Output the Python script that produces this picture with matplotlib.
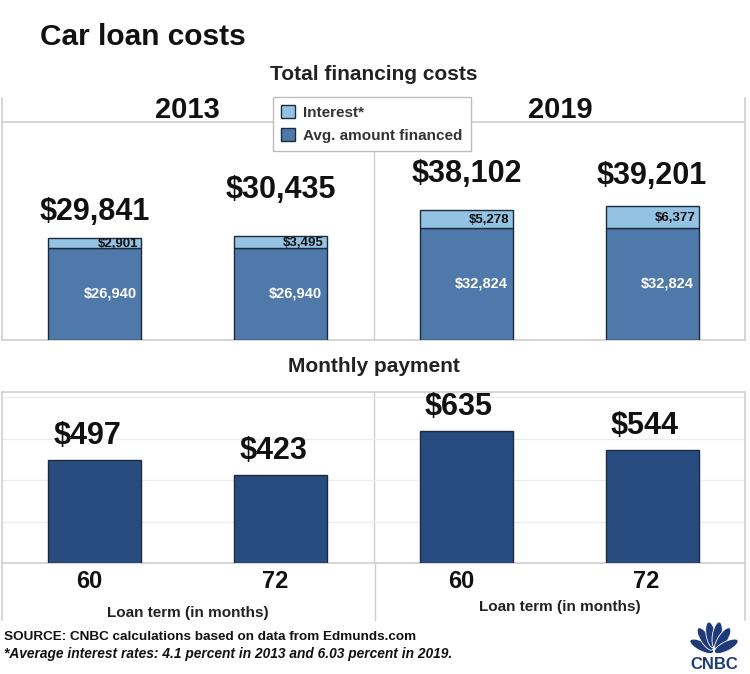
import matplotlib as mpl
import matplotlib.pyplot as plt
import numpy as np
from matplotlib.patches import Patch, Ellipse

mpl.rcParams["font.family"] = ["Liberation Sans", "DejaVu Sans"]

# data
terms = ["60", "72", "60", "72"]
years = ["2013", "2019"]
financed = [26940, 26940, 32824, 32824]
interest = [2901, 3495, 5278, 6377]
totals = [29841, 30435, 38102, 39201]
monthly = [497, 423, 635, 544]

c_light = "#93c2e3"
c_mid = "#4e79aa"
c_dark = "#284c80"
c_edge = "#1c2a3c"
c_frame = "#cfcfcf"

W, H = 750, 674
fig = plt.figure(figsize=(7.5, 6.74), dpi=100)


def fx(x):
    return x / W


def fy(y):
    return 1 - y / H


def line(x0, y0, x1, y1, color=c_frame, lw=1.2):
    fig.add_artist(plt.Line2D([fx(x0), fx(x1)], [fy(y0), fy(y1)],
                              color=color, lw=lw, transform=fig.transFigure))


x = np.arange(4)

# ---- top panel: total financing costs
ax1 = fig.add_axes([fx(2), fy(340), fx(745) - fx(2), fy(98) - fy(340)])
ax1.bar(x, financed, width=0.5, color=c_mid, edgecolor=c_edge, lw=1, zorder=3)
ax1.bar(x, interest, bottom=financed, width=0.5, color=c_light,
        edgecolor=c_edge, lw=1, zorder=3)
ax1.set_xlim(-0.5, 3.5)
ax1.set_ylim(0, 70700)
ax1.axhline(63700, color=c_frame, lw=1.2, zorder=1)
ax1.plot([1.5, 1.5], [0, 63700], color=c_frame, lw=1, zorder=1)
ax1.spines["top"].set_visible(False)
for s in ["left", "right", "bottom"]:
    ax1.spines[s].set_color(c_frame)
    ax1.spines[s].set_linewidth(1.2)
ax1.set_xticks([])
ax1.set_yticks([])

tot_off = [26, 46, 36, 30]
for i in range(4):
    ax1.annotate("${:,}".format(totals[i]), (x[i], totals[i]),
                 xytext=(0, tot_off[i] * 0.72), textcoords="offset points",
                 ha="center", va="center", fontsize=22, fontweight="bold",
                 color="#111111")
    ax1.annotate("${:,}".format(interest[i]), (x[i] + 0.24, financed[i] + interest[i] / 2),
                 xytext=(-1, -1), textcoords="offset points",
                 ha="right", va="center", fontsize=9.5, fontweight="bold",
                 color="#111111", zorder=4)
    ax1.annotate("${:,}".format(financed[i]), (x[i] + 0.24, financed[i] / 2),
                 xytext=(-2, 0), textcoords="offset points",
                 ha="right", va="center", fontsize=10.5, fontweight="bold",
                 color="white", zorder=4)

handles = [Patch(facecolor=c_light, edgecolor=c_edge, label="Interest*"),
           Patch(facecolor=c_mid, edgecolor=c_edge, label="Avg. amount financed")]
leg = ax1.legend(handles=handles, loc="upper left",
                 bbox_to_anchor=(fx(273), fy(97)), bbox_transform=fig.transFigure,
                 borderaxespad=0, fancybox=False, framealpha=1,
                 edgecolor="#bdbdbd", fontsize=11, handlelength=0.9,
                 handleheight=0.9, handletextpad=0.5, labelspacing=0.55,
                 borderpad=0.55)
for t in leg.get_texts():
    t.set_color("#333333")
    t.set_fontweight("bold")
leg.set_zorder(10)

fig.text(fx(187), fy(110), years[0], ha="center", va="center",
         fontsize=21, fontweight="bold", color="#111111")
fig.text(fx(560), fy(110), years[1], ha="center", va="center",
         fontsize=21, fontweight="bold", color="#111111")

# ---- bottom panel: monthly payment
ax2 = fig.add_axes([fx(2), fy(563), fx(745) - fx(2), fy(392) - fy(563)])
ax2.bar(x, monthly, width=0.5, color=c_dark, edgecolor=c_edge, lw=1, zorder=3)
ax2.set_xlim(-0.5, 3.5)
ax2.set_ylim(0, 825)
ax2.set_yticks([200, 400, 600, 800])
ax2.grid(True, axis="y", color="#ececec", lw=1, zorder=0)
ax2.tick_params(axis="y", length=0, labelleft=False)
ax2.set_xticks(x - 0.03)
ax2.set_xticklabels(terms, fontsize=17, fontweight="bold", color="#111111")
ax2.tick_params(axis="x", length=0, pad=5)
for s in ["left", "right", "top", "bottom"]:
    ax2.spines[s].set_color(c_frame)
    ax2.spines[s].set_linewidth(1.2)
ax2.plot([1.5, 1.5], [0, 825], color=c_frame, lw=1, zorder=1)
for i in range(4):
    ax2.annotate("${}".format(monthly[i]), (x[i] - 0.04, monthly[i]),
                 xytext=(0, 24 * 0.72), textcoords="offset points",
                 ha="center", va="center", fontsize=22, fontweight="bold",
                 color="#111111")

# frame extension below bottom axis
line(2, 563, 2, 620)
line(745, 563, 745, 620)
line(375, 563, 375, 620, lw=1)

fig.text(fx(188), fy(613), "Loan term (in months)", ha="center", va="center",
         fontsize=11, fontweight="bold", color="#222222")
fig.text(fx(560), fy(607), "Loan term (in months)", ha="center", va="center",
         fontsize=11, fontweight="bold", color="#222222")

# titles
fig.text(fx(40), fy(37), "Car loan costs", ha="left", va="center",
         fontsize=21.5, fontweight="bold", color="#111111")
fig.text(fx(374), fy(74), "Total financing costs", ha="center", va="center",
         fontsize=15, fontweight="bold", color="#222222")
fig.text(fx(374), fy(367), "Monthly payment", ha="center", va="center",
         fontsize=15, fontweight="bold", color="#222222")

# footer
fig.text(fx(4), fy(637), "SOURCE: CNBC calculations based on data from Edmunds.com",
         ha="left", va="center", fontsize=9.7, fontweight="bold", color="#111111")
fig.text(fx(4), fy(654),
         "*Average interest rates: 4.1 percent in 2013 and 6.03 percent in 2019.",
         ha="left", va="center", fontsize=9.9, fontweight="bold",
         style="italic", color="#111111")

# logo
axl = fig.add_axes([fx(684), fy(672), fx(744) - fx(684), fy(620) - fy(672)])
axl.set_xlim(-1.15, 1.15)
axl.set_ylim(-1.0, 1.0)
axl.axis("off")
for ang in np.linspace(160, 20, 6):
    a = np.deg2rad(ang)
    axl.add_patch(Ellipse((0.5 * np.cos(a), -0.25 + 0.7 * np.sin(a)), 1.0, 0.36,
                          angle=np.rad2deg(np.arctan2(0.7 * np.sin(a), 0.5 * np.cos(a))),
                          facecolor="#1f3a78", edgecolor="white", lw=0.6))
axl.text(0, -0.72, "CNBC", ha="center", va="center", fontsize=12,
         fontweight="heavy", color="#1f3a78")

fig.savefig("out.png", dpi=100)
